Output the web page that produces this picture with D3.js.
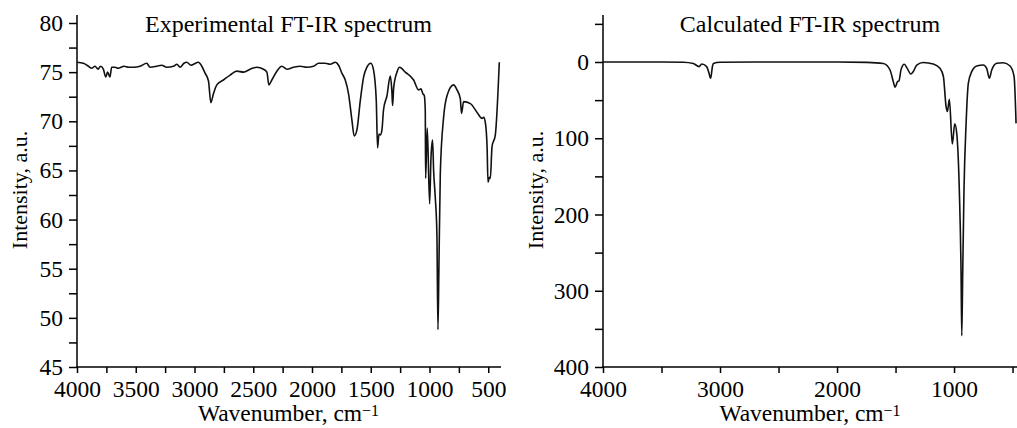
<!DOCTYPE html>
<html>
<head>
<meta charset="utf-8">
<script src="https://cdn.jsdelivr.net/npm/d3@7"></script>
<style>
  body { margin: 0; background: #fff; }
  svg { display: block; }
  .axis path, .axis line { stroke: #000; stroke-width: 1.5; }
  .axis text { font-family: "Liberation Serif", "Times New Roman", serif; font-size: 23.5px; fill: #000; }
  .lbl { font-family: "Liberation Serif", "Times New Roman", serif; font-size: 23.5px; fill: #000; }
</style>
</head>
<body>
<div id="chart"></div>
<script>
// experimental spectrum: wavenumber (cm-1), intensity (a.u.)
const expWavenumber = [4000, 3946, 3903, 3875, 3847, 3820, 3800, 3776, 3755, 3740, 3720, 3705, 3676, 3650, 3600,
  3560, 3520, 3463, 3407, 3378, 3321, 3280, 3236, 3179, 3150, 3123, 3090, 3066, 3030, 3009, 2967, 2938, 2910,
  2881, 2861, 2839, 2810, 2754, 2697, 2640, 2583, 2526, 2470, 2413, 2384, 2367, 2342, 2299, 2257, 2214, 2157,
  2100, 2044, 1987, 1944, 1888, 1845, 1802, 1774, 1746, 1717, 1689, 1660, 1641, 1618, 1589, 1561, 1533, 1499,
  1476, 1453, 1442, 1430, 1419, 1405, 1391, 1362, 1334, 1320, 1314, 1305, 1277, 1254, 1206, 1135, 1093, 1073,
  1056, 1044, 1036, 1033, 1019, 999, 987, 974, 965, 951, 937, 928, 920, 908, 880, 851, 795, 766, 738, 727, 710,
  652, 595, 553, 539, 525, 510, 502, 490, 482, 468, 440, 406];
const expIntensity = [76.0, 75.9, 75.6, 75.4, 75.6, 75.3, 75.6, 75.3, 74.5, 75.0, 74.5, 75.5, 75.5, 75.4, 75.6,
  75.5, 75.5, 75.6, 75.9, 75.5, 75.6, 75.7, 75.5, 75.6, 75.8, 75.5, 75.9, 76.0, 75.7, 75.8, 76.0, 75.6, 74.9,
  74.1, 71.9, 72.8, 73.7, 74.2, 74.7, 75.1, 75.0, 75.3, 75.5, 75.3, 75.0, 73.7, 74.2, 75.1, 75.6, 75.3, 75.5,
  75.6, 75.5, 75.6, 75.9, 75.9, 75.8, 76.0, 75.7, 74.9, 74.2, 72.8, 70.1, 68.5, 69.1, 72.1, 74.5, 75.5, 75.9,
  75.2, 72.1, 67.3, 68.7, 68.6, 69.1, 71.2, 72.6, 74.6, 73.0, 71.6, 73.4, 75.0, 75.5, 75.0, 74.2, 73.2, 73.3,
  72.8, 72.6, 71.1, 64.2, 69.3, 61.6, 66.4, 68.1, 65.0, 62.3, 58.5, 48.8, 55.0, 64.7, 70.4, 72.6, 73.7, 73.2,
  72.3, 70.8, 72.0, 71.8, 70.9, 70.3, 70.4, 69.9, 67.4, 63.8, 64.3, 64.2, 67.4, 68.6, 76.0];

// calculated spectrum
const calcWavenumber = [4000, 3500, 3314, 3228, 3179, 3156, 3114, 3095, 3080, 3065, 3057, 3000, 2500, 2000, 1746,
  1604, 1547, 1519, 1504, 1484, 1470, 1453, 1425, 1400, 1370, 1348, 1319, 1263, 1177, 1120, 1091, 1068, 1057,
  1040, 1015, 994, 977, 955, 940, 934, 926, 915, 897, 878, 849, 806, 750, 721, 698, 678, 635, 579, 521, 487, 470];
const calcIntensity = [0, 0, 0.3, 2, 6, 2.6, 6, 14, 21.4, 6, 2, 0.3, 0, 0, 0.5,
  2, 10.5, 25.8, 33.2, 25.8, 24.5, 10, 3, 8.3, 15.7, 12.5, 4, 0.6, 2.7, 8.3, 19, 58.6, 65,
  49, 107.6, 81, 93.6, 168, 277, 359, 277, 168, 80.5, 28, 12.7, 5.2, 3.9, 8.3, 21.4, 10.5, 1.7, 0.9, 5.2, 19, 80.5];

// ticks
const expXTicks = [4000, 3500, 3000, 2500, 2000, 1500, 1000, 500];
const expXMinor = [3750, 3250, 2750, 2250, 1750, 1250, 750];
const expYTicks = [45, 50, 55, 60, 65, 70, 75, 80];
const expYMinor = [47.5, 52.5, 57.5, 62.5, 67.5, 72.5, 77.5];
const calcXTicks = [4000, 3000, 2000, 1000];
const calcXMinor = [3500, 2500, 1500, 500];
const calcYTicks = [0, 100, 200, 300, 400];
const calcYMinor = [-50, 50, 150, 250, 350];

const svg = d3.select('#chart').append('svg')
  .attr('width', 1017)
  .attr('height', 428);

function drawPanel(cfg) {
  const x = d3.scaleLinear().domain(cfg.xDomain).range(cfg.xRange);
  const y = d3.scaleLinear().domain(cfg.yDomain).range(cfg.yRange);
  const bottom = cfg.yRange[0];
  const left = cfg.xRange[0];

  const majorX = new Set(cfg.xTicks);
  const xAxis = d3.axisBottom(x)
    .tickValues(cfg.xTicks.concat(cfg.xMinor))
    .tickSize(6)
    .tickSizeOuter(0)
    .tickPadding(7)
    .tickFormat(d => majorX.has(d) ? d : '');

  const gx = svg.append('g')
    .attr('class', 'axis')
    .attr('transform', 'translate(0,' + bottom + ')')
    .call(xAxis);
  gx.select('.domain').attr('d', 'M' + (left - 0.75) + ',0H' + cfg.xAxisEnd);

  const majorY = new Set(cfg.yTicks);
  const yAxis = d3.axisLeft(y)
    .tickValues(cfg.yTicks.concat(cfg.yMinor))
    .tickSize(8)
    .tickSizeOuter(0)
    .tickPadding(6)
    .tickFormat(d => majorY.has(d) ? d : '');

  const gy = svg.append('g')
    .attr('class', 'axis')
    .attr('transform', 'translate(' + left + ',0)')
    .call(yAxis);
  gy.select('.domain').attr('d', 'M0,15V' + (bottom + 0.75));

  const pts = cfg.wn.map((w, i) => [w, cfg.val[i]]);
  const line = d3.line()
    .x(d => x(d[0]))
    .y(d => y(d[1]))
    .curve(d3.curveMonotoneX);

  svg.append('path')
    .datum(pts)
    .attr('fill', 'none')
    .attr('stroke', '#111')
    .attr('stroke-width', 1.6)
    .attr('stroke-linejoin', 'round')
    .attr('d', line);

  const cx = (cfg.xRange[0] + cfg.xRange[1]) / 2;

  svg.append('text')
    .attr('class', 'lbl')
    .attr('x', cx)
    .attr('y', 32)
    .attr('text-anchor', 'middle')
    .style('font-size', '24px')
    .text(cfg.title);

  const xl = svg.append('text')
    .attr('class', 'lbl')
    .attr('x', cx)
    .attr('y', 421)
    .attr('text-anchor', 'middle');
  xl.append('tspan').text('Wavenumber, cm');
  xl.append('tspan').attr('dy', -5).attr('font-size', '16px').text('\u22121');

  svg.append('text')
    .attr('class', 'lbl')
    .attr('transform', 'translate(' + cfg.yLabelX + ',190) rotate(-90)')
    .attr('text-anchor', 'middle')
    .style('font-size', '22px')
    .text('Intensity, a.u.');
}

drawPanel({
  wn: expWavenumber, val: expIntensity,
  xDomain: [4000, 400], xRange: [77, 500], xAxisEnd: 501,
  yDomain: [45, 80], yRange: [367, 23],
  xTicks: expXTicks, xMinor: expXMinor, yTicks: expYTicks, yMinor: expYMinor,
  title: 'Experimental FT-IR spectrum', yLabelX: 27
});

drawPanel({
  wn: calcWavenumber, val: calcIntensity,
  xDomain: [4000, 462], xRange: [603, 1017], xAxisEnd: 1017,
  yDomain: [400, 0], yRange: [367, 62],
  xTicks: calcXTicks, xMinor: calcXMinor, yTicks: calcYTicks, yMinor: calcYMinor,
  title: 'Calculated FT-IR spectrum', yLabelX: 543
});
</script>
</body>
</html>
